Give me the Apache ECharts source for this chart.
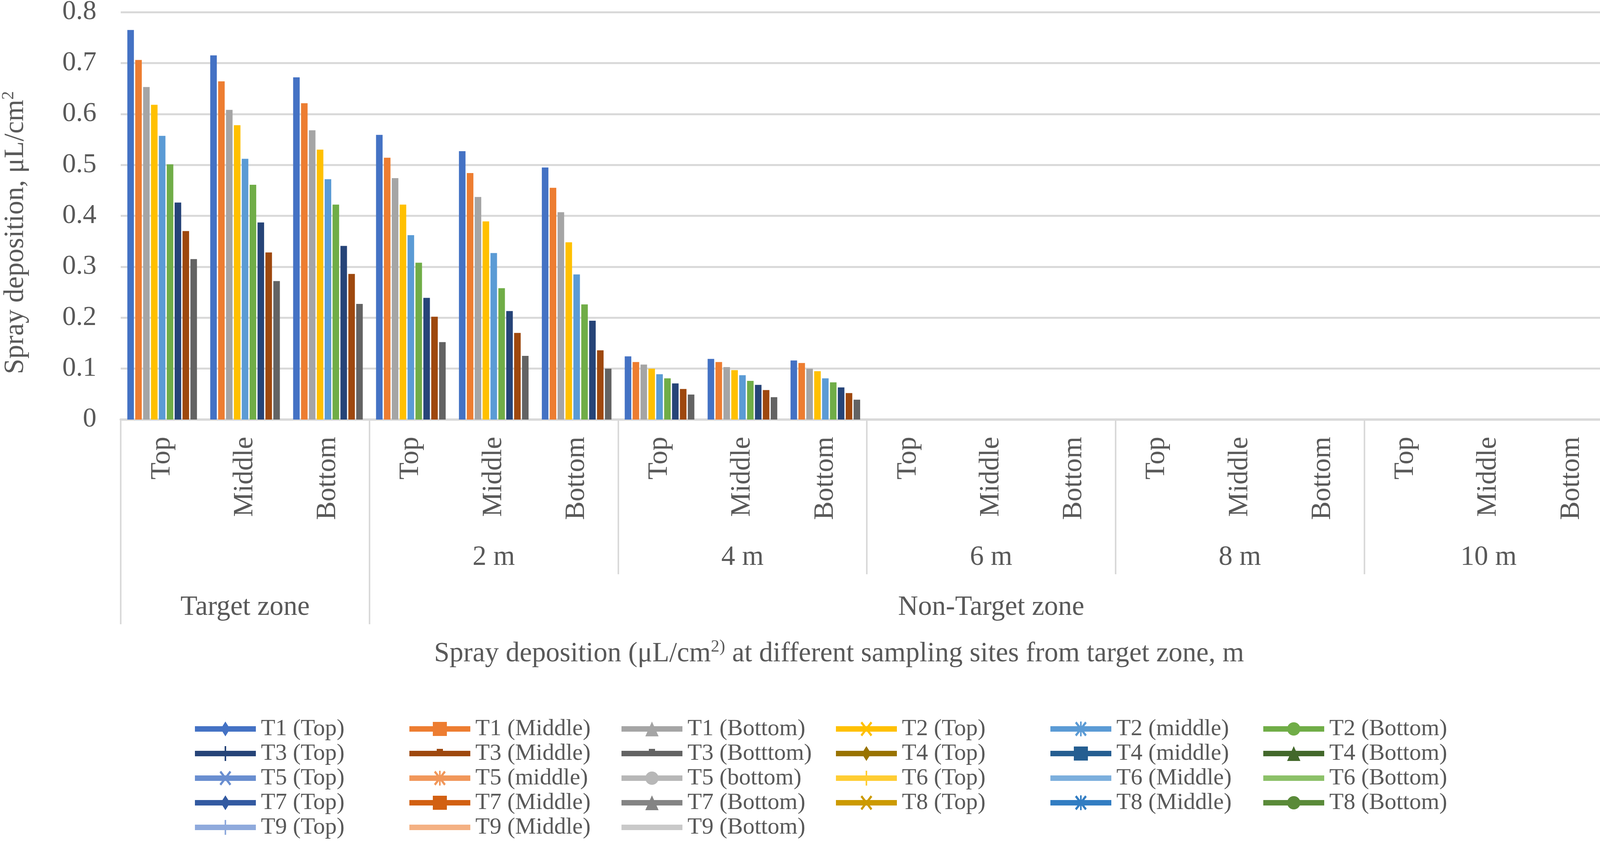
<!DOCTYPE html>
<html>
<head>
<meta charset="utf-8">
<script src="https://cdn.jsdelivr.net/npm/echarts@6/dist/echarts.min.js"></script>
<style>
html, body { margin: 0; padding: 0; background: #ffffff; }
#chart { width: 4139px; height: 2158px; }
</style>
</head>
<body>
<div id="chart"></div>
<script>
// ---------- data ----------
const categories = ['Top', 'Middle', 'Bottom', 'Top', 'Middle', 'Bottom', 'Top', 'Middle', 'Bottom',
                    'Top', 'Middle', 'Bottom', 'Top', 'Middle', 'Bottom', 'Top', 'Middle', 'Bottom'];
const distanceLabels = ['', '2 m', '4 m', '6 m', '8 m', '10 m'];
const zoneLabels = ['Target zone', '', '', 'Non-Target zone', '', ''];

const seriesNames = ['T1 (Top)', 'T1 (Middle)', 'T1 (Bottom)', 'T2 (Top)', 'T2 (middle)', 'T2 (Bottom)',
                     'T3 (Top)', 'T3 (Middle)', 'T3 (Botttom)', 'T4 (Top)', 'T4 (middle)', 'T4 (Bottom)',
                     'T5 (Top)', 'T5 (middle)', 'T5 (bottom)', 'T6 (Top)', 'T6 (Middle)', 'T6 (Bottom)',
                     'T7 (Top)', 'T7 (Middle)', 'T7 (Bottom)', 'T8 (Top)', 'T8 (Middle)', 'T8 (Bottom)',
                     'T9 (Top)', 'T9 (Middle)', 'T9 (Bottom)'];

const t1Top    = [0.765, 0.715, 0.672, 0.559, 0.527, 0.495, 0.124, 0.119, 0.116, 0, 0, 0, 0, 0, 0, 0, 0, 0];
const t1Middle = [0.706, 0.664, 0.621, 0.514, 0.484, 0.455, 0.113, 0.113, 0.111, 0, 0, 0, 0, 0, 0, 0, 0, 0];
const t1Bottom = [0.653, 0.608, 0.568, 0.474, 0.437, 0.407, 0.108, 0.103, 0.100, 0, 0, 0, 0, 0, 0, 0, 0, 0];
const t2Top    = [0.618, 0.578, 0.530, 0.422, 0.389, 0.348, 0.100, 0.097, 0.095, 0, 0, 0, 0, 0, 0, 0, 0, 0];
const t2Middle = [0.557, 0.512, 0.472, 0.362, 0.327, 0.285, 0.089, 0.087, 0.081, 0, 0, 0, 0, 0, 0, 0, 0, 0];
const t2Bottom = [0.501, 0.461, 0.422, 0.308, 0.258, 0.226, 0.081, 0.076, 0.073, 0, 0, 0, 0, 0, 0, 0, 0, 0];
const t3Top    = [0.426, 0.387, 0.341, 0.239, 0.213, 0.194, 0.071, 0.068, 0.063, 0, 0, 0, 0, 0, 0, 0, 0, 0];
const t3Middle = [0.370, 0.328, 0.286, 0.202, 0.170, 0.136, 0.060, 0.058, 0.052, 0, 0, 0, 0, 0, 0, 0, 0, 0];
const t3Bottom = [0.315, 0.272, 0.227, 0.152, 0.125, 0.100, 0.049, 0.044, 0.039, 0, 0, 0, 0, 0, 0, 0, 0, 0];

const seriesColors = ['#4472C4', '#ED7D31', '#A5A5A5', '#FFC000', '#5B9BD5', '#70AD47',
                      '#264478', '#9E480E', '#636363', '#997300', '#255E91', '#43682B',
                      '#698ED0', '#F1975A', '#B7B7B7', '#FFCD33', '#7CAFDD', '#8CC168',
                      '#335AA1', '#D26012', '#848484', '#CC9A00', '#327DC2', '#5A8A39',
                      '#8FAADC', '#F4B183', '#C9C9C9'];

const legendMarkers = ['diamond', 'square', 'triangle', 'x', 'star', 'circle', 'plus', 'dash', 'dash',
                       'diamond', 'square', 'triangle', 'x', 'star', 'circle', 'plus', 'none', 'none',
                       'diamond', 'square', 'triangle', 'x', 'star', 'circle', 'plus', 'none', 'none'];

// ---------- styling ----------
const FONT = '"Liberation Serif", "Times New Roman", serif';
const TXT = '#595959';
const GRIDC = '#D9D9D9';

function iconPath(kind) {
  // box 156 x 38 ; corner moves keep the bounding box fixed
  let p = 'M0,0 M156,38 M0,12 L156,12 L156,26 L0,26 Z ';
  if (kind === 'diamond') p += 'M78,0 L90,19 L78,38 L66,19 Z';
  else if (kind === 'square') p += 'M60,1 L96,1 L96,37 L60,37 Z';
  else if (kind === 'triangle') p += 'M78,0 L95,38 L61,38 Z';
  else if (kind === 'x') p += 'M63,4 L67,0 L93,34 L89,38 Z M89,0 L93,4 L67,38 L63,34 Z';
  else if (kind === 'star') p += 'M63,4 L67,0 L93,34 L89,38 Z M89,0 L93,4 L67,38 L63,34 Z M76,0 L80,0 L80,38 L76,38 Z';
  else if (kind === 'circle') {
    const pts = [];
    for (let k = 0; k < 32; k++) {
      const a = k / 32 * Math.PI * 2;
      pts.push((78 + 17 * Math.cos(a)).toFixed(2) + ',' + (19 + 17 * Math.sin(a)).toFixed(2));
    }
    p += 'M' + pts.join(' L') + ' Z';
  }
  else if (kind === 'plus') p += 'M76,0 L80,0 L80,38 L76,38 Z';
  else if (kind === 'dash') p += 'M70,7 L86,7 L86,20 L70,20 Z';
  return 'path://' + p;
}

const barValues = [t1Top, t1Middle, t1Bottom, t2Top, t2Middle, t2Bottom, t3Top, t3Middle, t3Bottom];

const series = seriesNames.map(function (name, i) {
  if (i < barValues.length) {
    return {
      name: name, type: 'bar', xAxisIndex: 0, yAxisIndex: 0,
      data: barValues[i], barGap: '20%', barCategoryGap: '16%',
      itemStyle: { color: seriesColors[i] }, silent: true
    };
  }
  return { name: name, type: 'bar', xAxisIndex: 1, yAxisIndex: 0, data: [], itemStyle: { color: seriesColors[i] } };
});

const legendCols = [499, 1048, 1591, 2140, 2689, 3234];
const legends = legendCols.map(function (x, c) {
  const data = [];
  for (let r = 0; r < 5; r++) {
    const i = r * 6 + c;
    if (i < seriesNames.length) data.push({ name: seriesNames[i], icon: iconPath(legendMarkers[i]) });
  }
  return {
    show: true, orient: 'vertical', left: x, top: 1834.5, padding: 0, itemGap: 0,
    itemWidth: 156, itemHeight: 38, selectedMode: false, data: data,
    textStyle: { fontFamily: FONT, fontSize: 60, color: TXT, lineHeight: 63, padding: [0, 0, 0, 8] }
  };
});

const chart = echarts.init(document.getElementById('chart'), null, { renderer: 'canvas' });
chart.setOption({
  backgroundColor: '#ffffff',
  animation: false,
  title: {
    text: '{a|Spray deposition (μL/cm}{s|2)}{a| at different sampling sites from target zone, m}',
    left: 2148, top: 1634, textAlign: 'center', padding: 0,
    textStyle: {
      fontWeight: 'normal',
      rich: {
        a: { fontFamily: FONT, fontSize: 71, fontWeight: 'normal', lineHeight: 80, color: TXT },
        s: { fontFamily: FONT, fontSize: 44, fontWeight: 'normal', lineHeight: 44, verticalAlign: 'top', color: TXT }
      }
    }
  },
  legend: legends,
  grid: { left: 309, right: 10, top: 31, bottom: 1084, containLabel: false, outerBoundsMode: 'none' },
  xAxis: [
    {
      type: 'category', position: 'bottom', data: categories,
      axisLine: { show: true, onZero: false, lineStyle: { color: GRIDC, width: 6 } },
      axisTick: { show: true, interval: function (i) { return i % 3 === 0; }, length: 396, lineStyle: { color: GRIDC, width: 4 } },
      axisLabel: { interval: 0, rotate: 90, margin: 44, fontFamily: FONT, fontSize: 71, color: TXT },
      splitLine: { show: false }
    },
    {
      type: 'category', position: 'bottom', data: distanceLabels,
      axisLine: { show: false, onZero: false }, axisTick: { show: false },
      axisLabel: { interval: 0, margin: 318, fontFamily: FONT, fontSize: 71, lineHeight: 71, color: TXT },
      splitLine: { show: false }
    },
    {
      type: 'category', position: 'bottom', data: zoneLabels,
      axisLine: { show: false, onZero: false },
      axisTick: { show: true, interval: function (i) { return i <= 1; }, length: 524, lineStyle: { color: GRIDC, width: 4 } },
      axisLabel: { interval: 0, margin: 446, fontFamily: FONT, fontSize: 71, lineHeight: 71, color: TXT },
      splitLine: { show: false }
    }
  ],
  yAxis: {
    type: 'value', min: 0, max: 0.8, interval: 0.1,
    axisLine: { show: false }, axisTick: { show: false },
    splitLine: { show: true, lineStyle: { color: GRIDC, width: 5 } },
    axisLabel: { margin: 62, fontFamily: FONT, fontSize: 70, color: TXT },
    name: '{a|Spray deposition, μL/cm}{s|2}',
    nameLocation: 'middle', nameGap: 229, nameRotate: 90,
    nameTextStyle: {
      padding: [0, 86, 0, 0],
      rich: {
        a: { fontFamily: FONT, fontSize: 71, lineHeight: 80, color: TXT },
        s: { fontFamily: FONT, fontSize: 44, lineHeight: 44, verticalAlign: 'top', color: TXT }
      }
    }
  },
  series: series
});
</script>
</body>
</html>
